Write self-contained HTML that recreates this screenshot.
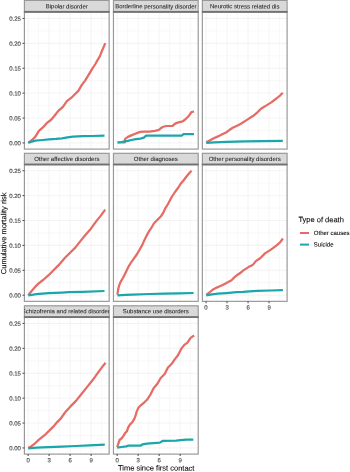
<!DOCTYPE html><html><head><meta charset="utf-8"><style>html,body{margin:0;padding:0;background:#fff;}svg{display:block;filter:blur(0.4px);}text{font-family:"Liberation Sans", sans-serif;text-rendering:geometricPrecision;stroke:currentColor;stroke-width:0.08px;}</style></head><body>
<svg width="350" height="472" viewBox="0 0 350 472">
<rect x="0" y="0" width="350" height="472" fill="#fff"/>
<defs><clipPath id="cp0"><rect x="24.40" y="0.40" width="84.75" height="11.05"/></clipPath><clipPath id="cp1"><rect x="113.45" y="0.40" width="84.75" height="11.05"/></clipPath><clipPath id="cp2"><rect x="202.35" y="0.40" width="84.75" height="11.05"/></clipPath><clipPath id="cp3"><rect x="24.40" y="153.30" width="84.75" height="10.85"/></clipPath><clipPath id="cp4"><rect x="113.45" y="153.30" width="84.75" height="10.85"/></clipPath><clipPath id="cp5"><rect x="202.35" y="153.30" width="84.75" height="10.85"/></clipPath><clipPath id="cp6"><rect x="24.40" y="305.80" width="84.75" height="10.95"/></clipPath><clipPath id="cp7"><rect x="113.45" y="305.80" width="84.75" height="10.95"/></clipPath></defs>
<line x1="38.60" y1="12.15" x2="38.60" y2="149.10" stroke="#F3F3F3" stroke-width="0.6"/>
<line x1="59.60" y1="12.15" x2="59.60" y2="149.10" stroke="#F3F3F3" stroke-width="0.6"/>
<line x1="80.60" y1="12.15" x2="80.60" y2="149.10" stroke="#F3F3F3" stroke-width="0.6"/>
<line x1="101.60" y1="12.15" x2="101.60" y2="149.10" stroke="#F3F3F3" stroke-width="0.6"/>
<line x1="24.40" y1="130.50" x2="109.15" y2="130.50" stroke="#F3F3F3" stroke-width="0.6"/>
<line x1="24.40" y1="105.60" x2="109.15" y2="105.60" stroke="#F3F3F3" stroke-width="0.6"/>
<line x1="24.40" y1="80.70" x2="109.15" y2="80.70" stroke="#F3F3F3" stroke-width="0.6"/>
<line x1="24.40" y1="55.80" x2="109.15" y2="55.80" stroke="#F3F3F3" stroke-width="0.6"/>
<line x1="24.40" y1="30.90" x2="109.15" y2="30.90" stroke="#F3F3F3" stroke-width="0.6"/>
<line x1="28.10" y1="12.15" x2="28.10" y2="149.10" stroke="#F0F0F0" stroke-width="0.8"/>
<line x1="49.10" y1="12.15" x2="49.10" y2="149.10" stroke="#F0F0F0" stroke-width="0.8"/>
<line x1="70.10" y1="12.15" x2="70.10" y2="149.10" stroke="#F0F0F0" stroke-width="0.8"/>
<line x1="91.10" y1="12.15" x2="91.10" y2="149.10" stroke="#F0F0F0" stroke-width="0.8"/>
<line x1="24.40" y1="142.95" x2="109.15" y2="142.95" stroke="#F0F0F0" stroke-width="0.8"/>
<line x1="24.40" y1="118.05" x2="109.15" y2="118.05" stroke="#F0F0F0" stroke-width="0.8"/>
<line x1="24.40" y1="93.15" x2="109.15" y2="93.15" stroke="#F0F0F0" stroke-width="0.8"/>
<line x1="24.40" y1="68.25" x2="109.15" y2="68.25" stroke="#F0F0F0" stroke-width="0.8"/>
<line x1="24.40" y1="43.35" x2="109.15" y2="43.35" stroke="#F0F0F0" stroke-width="0.8"/>
<line x1="24.40" y1="18.45" x2="109.15" y2="18.45" stroke="#F0F0F0" stroke-width="0.8"/>
<polyline points="28.3,142.8 32.0,140.0 35.4,136.6 38.9,130.9 42.9,127.4 46.9,122.9 50.9,120.0 54.3,116.0 58.3,110.9 62.9,106.9 66.9,101.1 71.4,97.7 74.9,94.3 78.3,90.9 81.7,85.1 85.1,80.6 88.6,74.9 92.0,69.1 95.4,64.0 97.1,60.8 99.7,56.6 101.4,52.3 103.6,47.1 105.3,43.3" fill="none" stroke="#E46C64" stroke-width="2.25" stroke-linejoin="round" stroke-linecap="butt"/>
<polyline points="28.3,142.6 35.4,140.6 42.3,140.0 49.1,139.4 56.0,138.9 62.0,138.3 67.5,137.3 73.0,136.7 82.6,136.2 92.2,136.0 104.5,135.7" fill="none" stroke="#1AA6AB" stroke-width="2.25" stroke-linejoin="round" stroke-linecap="butt"/>
<rect x="24.40" y="12.15" width="84.75" height="136.95" fill="none" stroke="#969696" stroke-width="1.15"/>
<rect x="24.40" y="0.40" width="84.75" height="11.05" fill="#D9D9D9" stroke="#969696" stroke-width="1.15"/>
<line x1="23.90" y1="11.80" x2="109.65" y2="11.80" stroke="#727272" stroke-width="1.7"/>
<g clip-path="url(#cp0)"><text x="66.78" y="8.40" font-size="6" fill="#1A1A1A" color="#1A1A1A" text-anchor="middle" style="stroke-width:0.05px" transform="rotate(0.1 66.78 8.40)">Bipolar disorder</text></g>
<line x1="22.50" y1="142.95" x2="24.40" y2="142.95" stroke="#333" stroke-width="0.9"/>
<text x="20.90" y="145.30" font-size="6" fill="#4D4D4D" color="#4D4D4D" text-anchor="end" style="stroke-width:0.15px" transform="rotate(0.1 20.90 145.30)">0.00</text>
<line x1="22.50" y1="118.05" x2="24.40" y2="118.05" stroke="#333" stroke-width="0.9"/>
<text x="20.90" y="120.40" font-size="6" fill="#4D4D4D" color="#4D4D4D" text-anchor="end" style="stroke-width:0.15px" transform="rotate(0.1 20.90 120.40)">0.05</text>
<line x1="22.50" y1="93.15" x2="24.40" y2="93.15" stroke="#333" stroke-width="0.9"/>
<text x="20.90" y="95.50" font-size="6" fill="#4D4D4D" color="#4D4D4D" text-anchor="end" style="stroke-width:0.15px" transform="rotate(0.1 20.90 95.50)">0.10</text>
<line x1="22.50" y1="68.25" x2="24.40" y2="68.25" stroke="#333" stroke-width="0.9"/>
<text x="20.90" y="70.60" font-size="6" fill="#4D4D4D" color="#4D4D4D" text-anchor="end" style="stroke-width:0.15px" transform="rotate(0.1 20.90 70.60)">0.15</text>
<line x1="22.50" y1="43.35" x2="24.40" y2="43.35" stroke="#333" stroke-width="0.9"/>
<text x="20.90" y="45.70" font-size="6" fill="#4D4D4D" color="#4D4D4D" text-anchor="end" style="stroke-width:0.15px" transform="rotate(0.1 20.90 45.70)">0.20</text>
<line x1="22.50" y1="18.45" x2="24.40" y2="18.45" stroke="#333" stroke-width="0.9"/>
<text x="20.90" y="20.80" font-size="6" fill="#4D4D4D" color="#4D4D4D" text-anchor="end" style="stroke-width:0.15px" transform="rotate(0.1 20.90 20.80)">0.25</text>
<line x1="127.65" y1="12.15" x2="127.65" y2="149.10" stroke="#F3F3F3" stroke-width="0.6"/>
<line x1="148.65" y1="12.15" x2="148.65" y2="149.10" stroke="#F3F3F3" stroke-width="0.6"/>
<line x1="169.65" y1="12.15" x2="169.65" y2="149.10" stroke="#F3F3F3" stroke-width="0.6"/>
<line x1="190.65" y1="12.15" x2="190.65" y2="149.10" stroke="#F3F3F3" stroke-width="0.6"/>
<line x1="113.45" y1="130.50" x2="198.20" y2="130.50" stroke="#F3F3F3" stroke-width="0.6"/>
<line x1="113.45" y1="105.60" x2="198.20" y2="105.60" stroke="#F3F3F3" stroke-width="0.6"/>
<line x1="113.45" y1="80.70" x2="198.20" y2="80.70" stroke="#F3F3F3" stroke-width="0.6"/>
<line x1="113.45" y1="55.80" x2="198.20" y2="55.80" stroke="#F3F3F3" stroke-width="0.6"/>
<line x1="113.45" y1="30.90" x2="198.20" y2="30.90" stroke="#F3F3F3" stroke-width="0.6"/>
<line x1="117.15" y1="12.15" x2="117.15" y2="149.10" stroke="#F0F0F0" stroke-width="0.8"/>
<line x1="138.15" y1="12.15" x2="138.15" y2="149.10" stroke="#F0F0F0" stroke-width="0.8"/>
<line x1="159.15" y1="12.15" x2="159.15" y2="149.10" stroke="#F0F0F0" stroke-width="0.8"/>
<line x1="180.15" y1="12.15" x2="180.15" y2="149.10" stroke="#F0F0F0" stroke-width="0.8"/>
<line x1="113.45" y1="142.95" x2="198.20" y2="142.95" stroke="#F0F0F0" stroke-width="0.8"/>
<line x1="113.45" y1="118.05" x2="198.20" y2="118.05" stroke="#F0F0F0" stroke-width="0.8"/>
<line x1="113.45" y1="93.15" x2="198.20" y2="93.15" stroke="#F0F0F0" stroke-width="0.8"/>
<line x1="113.45" y1="68.25" x2="198.20" y2="68.25" stroke="#F0F0F0" stroke-width="0.8"/>
<line x1="113.45" y1="43.35" x2="198.20" y2="43.35" stroke="#F0F0F0" stroke-width="0.8"/>
<line x1="113.45" y1="18.45" x2="198.20" y2="18.45" stroke="#F0F0F0" stroke-width="0.8"/>
<polyline points="117.6,142.5 124.9,142.3 125.0,139.1 127.9,136.9 131.3,135.4 134.7,134.0 138.1,132.6 140.4,131.9 145.0,131.7 149.6,131.7 153.0,131.1 155.0,130.8 158.8,129.9 162.5,127.0 166.3,126.0 172.6,125.8 175.1,123.6 177.6,122.6 182.7,121.4 185.2,119.5 189.0,115.7 191.5,112.0 194.0,111.6" fill="none" stroke="#E46C64" stroke-width="2.25" stroke-linejoin="round" stroke-linecap="butt"/>
<polyline points="117.6,142.3 121.6,142.0 124.4,141.4 127.9,140.9 131.3,140.0 135.9,139.1 140.4,138.6 143.9,137.7 146.1,135.7 153.0,135.5 182.0,135.5 183.3,134.2 194.0,134.2" fill="none" stroke="#1AA6AB" stroke-width="2.25" stroke-linejoin="round" stroke-linecap="butt"/>
<rect x="113.45" y="12.15" width="84.75" height="136.95" fill="none" stroke="#969696" stroke-width="1.15"/>
<rect x="113.45" y="0.40" width="84.75" height="11.05" fill="#D9D9D9" stroke="#969696" stroke-width="1.15"/>
<line x1="112.95" y1="11.80" x2="198.70" y2="11.80" stroke="#727272" stroke-width="1.7"/>
<g clip-path="url(#cp1)"><text x="155.82" y="8.40" font-size="6" fill="#1A1A1A" color="#1A1A1A" text-anchor="middle" style="stroke-width:0.05px" transform="rotate(0.1 155.82 8.40)">Borderline personality disorder</text></g>
<line x1="216.55" y1="12.15" x2="216.55" y2="149.10" stroke="#F3F3F3" stroke-width="0.6"/>
<line x1="237.55" y1="12.15" x2="237.55" y2="149.10" stroke="#F3F3F3" stroke-width="0.6"/>
<line x1="258.55" y1="12.15" x2="258.55" y2="149.10" stroke="#F3F3F3" stroke-width="0.6"/>
<line x1="279.55" y1="12.15" x2="279.55" y2="149.10" stroke="#F3F3F3" stroke-width="0.6"/>
<line x1="202.35" y1="130.50" x2="287.10" y2="130.50" stroke="#F3F3F3" stroke-width="0.6"/>
<line x1="202.35" y1="105.60" x2="287.10" y2="105.60" stroke="#F3F3F3" stroke-width="0.6"/>
<line x1="202.35" y1="80.70" x2="287.10" y2="80.70" stroke="#F3F3F3" stroke-width="0.6"/>
<line x1="202.35" y1="55.80" x2="287.10" y2="55.80" stroke="#F3F3F3" stroke-width="0.6"/>
<line x1="202.35" y1="30.90" x2="287.10" y2="30.90" stroke="#F3F3F3" stroke-width="0.6"/>
<line x1="206.05" y1="12.15" x2="206.05" y2="149.10" stroke="#F0F0F0" stroke-width="0.8"/>
<line x1="227.05" y1="12.15" x2="227.05" y2="149.10" stroke="#F0F0F0" stroke-width="0.8"/>
<line x1="248.05" y1="12.15" x2="248.05" y2="149.10" stroke="#F0F0F0" stroke-width="0.8"/>
<line x1="269.05" y1="12.15" x2="269.05" y2="149.10" stroke="#F0F0F0" stroke-width="0.8"/>
<line x1="202.35" y1="142.95" x2="287.10" y2="142.95" stroke="#F0F0F0" stroke-width="0.8"/>
<line x1="202.35" y1="118.05" x2="287.10" y2="118.05" stroke="#F0F0F0" stroke-width="0.8"/>
<line x1="202.35" y1="93.15" x2="287.10" y2="93.15" stroke="#F0F0F0" stroke-width="0.8"/>
<line x1="202.35" y1="68.25" x2="287.10" y2="68.25" stroke="#F0F0F0" stroke-width="0.8"/>
<line x1="202.35" y1="43.35" x2="287.10" y2="43.35" stroke="#F0F0F0" stroke-width="0.8"/>
<line x1="202.35" y1="18.45" x2="287.10" y2="18.45" stroke="#F0F0F0" stroke-width="0.8"/>
<polyline points="206.3,142.2 210.6,139.9 214.3,138.0 218.0,136.4 221.7,134.6 226.0,132.5 229.0,130.3 232.7,127.8 237.6,125.4 241.3,123.5 245.0,121.1 248.1,119.1 253.3,115.8 257.1,112.6 261.0,108.8 266.1,105.6 271.3,102.4 276.4,98.5 280.3,95.3 282.8,92.7" fill="none" stroke="#E46C64" stroke-width="2.25" stroke-linejoin="round" stroke-linecap="butt"/>
<polyline points="206.3,142.9 214.3,142.3 226.6,141.9 245.0,141.4 262.3,141.2 282.8,140.9" fill="none" stroke="#1AA6AB" stroke-width="2.25" stroke-linejoin="round" stroke-linecap="butt"/>
<rect x="202.35" y="12.15" width="84.75" height="136.95" fill="none" stroke="#969696" stroke-width="1.15"/>
<rect x="202.35" y="0.40" width="84.75" height="11.05" fill="#D9D9D9" stroke="#969696" stroke-width="1.15"/>
<line x1="201.85" y1="11.80" x2="287.60" y2="11.80" stroke="#727272" stroke-width="1.7"/>
<g clip-path="url(#cp2)"><text x="244.72" y="8.40" font-size="6" fill="#1A1A1A" color="#1A1A1A" text-anchor="middle" style="stroke-width:0.05px" transform="rotate(0.1 244.72 8.40)">Neurotic stress related dis</text></g>
<line x1="38.60" y1="164.85" x2="38.60" y2="301.35" stroke="#F3F3F3" stroke-width="0.6"/>
<line x1="59.60" y1="164.85" x2="59.60" y2="301.35" stroke="#F3F3F3" stroke-width="0.6"/>
<line x1="80.60" y1="164.85" x2="80.60" y2="301.35" stroke="#F3F3F3" stroke-width="0.6"/>
<line x1="101.60" y1="164.85" x2="101.60" y2="301.35" stroke="#F3F3F3" stroke-width="0.6"/>
<line x1="24.40" y1="282.75" x2="109.15" y2="282.75" stroke="#F3F3F3" stroke-width="0.6"/>
<line x1="24.40" y1="257.85" x2="109.15" y2="257.85" stroke="#F3F3F3" stroke-width="0.6"/>
<line x1="24.40" y1="232.95" x2="109.15" y2="232.95" stroke="#F3F3F3" stroke-width="0.6"/>
<line x1="24.40" y1="208.05" x2="109.15" y2="208.05" stroke="#F3F3F3" stroke-width="0.6"/>
<line x1="24.40" y1="183.15" x2="109.15" y2="183.15" stroke="#F3F3F3" stroke-width="0.6"/>
<line x1="28.10" y1="164.85" x2="28.10" y2="301.35" stroke="#F0F0F0" stroke-width="0.8"/>
<line x1="49.10" y1="164.85" x2="49.10" y2="301.35" stroke="#F0F0F0" stroke-width="0.8"/>
<line x1="70.10" y1="164.85" x2="70.10" y2="301.35" stroke="#F0F0F0" stroke-width="0.8"/>
<line x1="91.10" y1="164.85" x2="91.10" y2="301.35" stroke="#F0F0F0" stroke-width="0.8"/>
<line x1="24.40" y1="295.20" x2="109.15" y2="295.20" stroke="#F0F0F0" stroke-width="0.8"/>
<line x1="24.40" y1="270.30" x2="109.15" y2="270.30" stroke="#F0F0F0" stroke-width="0.8"/>
<line x1="24.40" y1="245.40" x2="109.15" y2="245.40" stroke="#F0F0F0" stroke-width="0.8"/>
<line x1="24.40" y1="220.50" x2="109.15" y2="220.50" stroke="#F0F0F0" stroke-width="0.8"/>
<line x1="24.40" y1="195.60" x2="109.15" y2="195.60" stroke="#F0F0F0" stroke-width="0.8"/>
<line x1="24.40" y1="170.70" x2="109.15" y2="170.70" stroke="#F0F0F0" stroke-width="0.8"/>
<polyline points="28.3,295.2 31.4,291.2 35.1,286.9 38.7,283.4 43.7,279.5 48.6,275.2 53.5,270.3 58.4,265.4 63.3,259.8 65.0,257.8 70.1,252.7 75.3,247.6 80.4,241.1 85.6,234.7 90.7,228.9 95.8,221.9 101.0,215.4 105.2,209.6" fill="none" stroke="#E46C64" stroke-width="2.25" stroke-linejoin="round" stroke-linecap="butt"/>
<polyline points="28.3,295.5 36.3,294.2 48.6,293.2 62.0,292.6 68.9,292.2 82.6,291.8 104.5,291.0" fill="none" stroke="#1AA6AB" stroke-width="2.25" stroke-linejoin="round" stroke-linecap="butt"/>
<rect x="24.40" y="164.85" width="84.75" height="136.50" fill="none" stroke="#969696" stroke-width="1.15"/>
<rect x="24.40" y="153.30" width="84.75" height="10.85" fill="#D9D9D9" stroke="#969696" stroke-width="1.15"/>
<line x1="23.90" y1="164.50" x2="109.65" y2="164.50" stroke="#727272" stroke-width="1.7"/>
<g clip-path="url(#cp3)"><text x="66.78" y="161.05" font-size="6" fill="#1A1A1A" color="#1A1A1A" text-anchor="middle" style="stroke-width:0.05px" transform="rotate(0.1 66.78 161.05)">Other affective disorders</text></g>
<line x1="22.50" y1="295.20" x2="24.40" y2="295.20" stroke="#333" stroke-width="0.9"/>
<text x="20.90" y="297.55" font-size="6" fill="#4D4D4D" color="#4D4D4D" text-anchor="end" style="stroke-width:0.15px" transform="rotate(0.1 20.90 297.55)">0.00</text>
<line x1="22.50" y1="270.30" x2="24.40" y2="270.30" stroke="#333" stroke-width="0.9"/>
<text x="20.90" y="272.65" font-size="6" fill="#4D4D4D" color="#4D4D4D" text-anchor="end" style="stroke-width:0.15px" transform="rotate(0.1 20.90 272.65)">0.05</text>
<line x1="22.50" y1="245.40" x2="24.40" y2="245.40" stroke="#333" stroke-width="0.9"/>
<text x="20.90" y="247.75" font-size="6" fill="#4D4D4D" color="#4D4D4D" text-anchor="end" style="stroke-width:0.15px" transform="rotate(0.1 20.90 247.75)">0.10</text>
<line x1="22.50" y1="220.50" x2="24.40" y2="220.50" stroke="#333" stroke-width="0.9"/>
<text x="20.90" y="222.85" font-size="6" fill="#4D4D4D" color="#4D4D4D" text-anchor="end" style="stroke-width:0.15px" transform="rotate(0.1 20.90 222.85)">0.15</text>
<line x1="22.50" y1="195.60" x2="24.40" y2="195.60" stroke="#333" stroke-width="0.9"/>
<text x="20.90" y="197.95" font-size="6" fill="#4D4D4D" color="#4D4D4D" text-anchor="end" style="stroke-width:0.15px" transform="rotate(0.1 20.90 197.95)">0.20</text>
<line x1="22.50" y1="170.70" x2="24.40" y2="170.70" stroke="#333" stroke-width="0.9"/>
<text x="20.90" y="173.05" font-size="6" fill="#4D4D4D" color="#4D4D4D" text-anchor="end" style="stroke-width:0.15px" transform="rotate(0.1 20.90 173.05)">0.25</text>
<line x1="127.65" y1="164.85" x2="127.65" y2="301.35" stroke="#F3F3F3" stroke-width="0.6"/>
<line x1="148.65" y1="164.85" x2="148.65" y2="301.35" stroke="#F3F3F3" stroke-width="0.6"/>
<line x1="169.65" y1="164.85" x2="169.65" y2="301.35" stroke="#F3F3F3" stroke-width="0.6"/>
<line x1="190.65" y1="164.85" x2="190.65" y2="301.35" stroke="#F3F3F3" stroke-width="0.6"/>
<line x1="113.45" y1="282.75" x2="198.20" y2="282.75" stroke="#F3F3F3" stroke-width="0.6"/>
<line x1="113.45" y1="257.85" x2="198.20" y2="257.85" stroke="#F3F3F3" stroke-width="0.6"/>
<line x1="113.45" y1="232.95" x2="198.20" y2="232.95" stroke="#F3F3F3" stroke-width="0.6"/>
<line x1="113.45" y1="208.05" x2="198.20" y2="208.05" stroke="#F3F3F3" stroke-width="0.6"/>
<line x1="113.45" y1="183.15" x2="198.20" y2="183.15" stroke="#F3F3F3" stroke-width="0.6"/>
<line x1="117.15" y1="164.85" x2="117.15" y2="301.35" stroke="#F0F0F0" stroke-width="0.8"/>
<line x1="138.15" y1="164.85" x2="138.15" y2="301.35" stroke="#F0F0F0" stroke-width="0.8"/>
<line x1="159.15" y1="164.85" x2="159.15" y2="301.35" stroke="#F0F0F0" stroke-width="0.8"/>
<line x1="180.15" y1="164.85" x2="180.15" y2="301.35" stroke="#F0F0F0" stroke-width="0.8"/>
<line x1="113.45" y1="295.20" x2="198.20" y2="295.20" stroke="#F0F0F0" stroke-width="0.8"/>
<line x1="113.45" y1="270.30" x2="198.20" y2="270.30" stroke="#F0F0F0" stroke-width="0.8"/>
<line x1="113.45" y1="245.40" x2="198.20" y2="245.40" stroke="#F0F0F0" stroke-width="0.8"/>
<line x1="113.45" y1="220.50" x2="198.20" y2="220.50" stroke="#F0F0F0" stroke-width="0.8"/>
<line x1="113.45" y1="195.60" x2="198.20" y2="195.60" stroke="#F0F0F0" stroke-width="0.8"/>
<line x1="113.45" y1="170.70" x2="198.20" y2="170.70" stroke="#F0F0F0" stroke-width="0.8"/>
<polyline points="117.4,294.6 118.1,289.6 119.1,285.7 120.6,281.9 123.2,277.5 125.7,272.4 128.2,267.3 130.8,262.9 134.0,258.4 137.1,254.0 139.7,249.5 142.2,245.1 144.7,239.5 147.0,234.9 149.3,230.8 151.7,227.3 154.0,223.2 157.5,219.7 161.0,216.2 163.3,212.7 165.1,208.6 168.0,204.0 172.0,196.5 175.0,192.0 178.0,188.0 180.5,184.0 183.5,180.5 186.5,176.5 189.0,173.5 191.5,170.8" fill="none" stroke="#E46C64" stroke-width="2.25" stroke-linejoin="round" stroke-linecap="butt"/>
<polyline points="117.4,295.3 125.7,294.9 132.1,294.6 150.0,294.0 164.3,293.7 178.6,293.4 193.6,293.0" fill="none" stroke="#1AA6AB" stroke-width="2.25" stroke-linejoin="round" stroke-linecap="butt"/>
<rect x="113.45" y="164.85" width="84.75" height="136.50" fill="none" stroke="#969696" stroke-width="1.15"/>
<rect x="113.45" y="153.30" width="84.75" height="10.85" fill="#D9D9D9" stroke="#969696" stroke-width="1.15"/>
<line x1="112.95" y1="164.50" x2="198.70" y2="164.50" stroke="#727272" stroke-width="1.7"/>
<g clip-path="url(#cp4)"><text x="155.82" y="161.05" font-size="6" fill="#1A1A1A" color="#1A1A1A" text-anchor="middle" style="stroke-width:0.05px" transform="rotate(0.1 155.82 161.05)">Other diagnoses</text></g>
<line x1="216.55" y1="164.85" x2="216.55" y2="301.35" stroke="#F3F3F3" stroke-width="0.6"/>
<line x1="237.55" y1="164.85" x2="237.55" y2="301.35" stroke="#F3F3F3" stroke-width="0.6"/>
<line x1="258.55" y1="164.85" x2="258.55" y2="301.35" stroke="#F3F3F3" stroke-width="0.6"/>
<line x1="279.55" y1="164.85" x2="279.55" y2="301.35" stroke="#F3F3F3" stroke-width="0.6"/>
<line x1="202.35" y1="282.75" x2="287.10" y2="282.75" stroke="#F3F3F3" stroke-width="0.6"/>
<line x1="202.35" y1="257.85" x2="287.10" y2="257.85" stroke="#F3F3F3" stroke-width="0.6"/>
<line x1="202.35" y1="232.95" x2="287.10" y2="232.95" stroke="#F3F3F3" stroke-width="0.6"/>
<line x1="202.35" y1="208.05" x2="287.10" y2="208.05" stroke="#F3F3F3" stroke-width="0.6"/>
<line x1="202.35" y1="183.15" x2="287.10" y2="183.15" stroke="#F3F3F3" stroke-width="0.6"/>
<line x1="206.05" y1="164.85" x2="206.05" y2="301.35" stroke="#F0F0F0" stroke-width="0.8"/>
<line x1="227.05" y1="164.85" x2="227.05" y2="301.35" stroke="#F0F0F0" stroke-width="0.8"/>
<line x1="248.05" y1="164.85" x2="248.05" y2="301.35" stroke="#F0F0F0" stroke-width="0.8"/>
<line x1="269.05" y1="164.85" x2="269.05" y2="301.35" stroke="#F0F0F0" stroke-width="0.8"/>
<line x1="202.35" y1="295.20" x2="287.10" y2="295.20" stroke="#F0F0F0" stroke-width="0.8"/>
<line x1="202.35" y1="270.30" x2="287.10" y2="270.30" stroke="#F0F0F0" stroke-width="0.8"/>
<line x1="202.35" y1="245.40" x2="287.10" y2="245.40" stroke="#F0F0F0" stroke-width="0.8"/>
<line x1="202.35" y1="220.50" x2="287.10" y2="220.50" stroke="#F0F0F0" stroke-width="0.8"/>
<line x1="202.35" y1="195.60" x2="287.10" y2="195.60" stroke="#F0F0F0" stroke-width="0.8"/>
<line x1="202.35" y1="170.70" x2="287.10" y2="170.70" stroke="#F0F0F0" stroke-width="0.8"/>
<polyline points="206.3,294.9 209.4,292.5 213.1,289.4 216.7,287.6 220.4,286.0 224.1,284.2 227.8,282.3 231.5,280.2 234.6,277.1 237.6,274.7 241.3,272.2 243.0,270.6 248.5,267.1 252.6,265.1 256.1,260.9 260.2,258.2 265.0,253.4 270.5,249.9 276.0,245.8 280.1,242.4 282.9,238.5" fill="none" stroke="#E46C64" stroke-width="2.25" stroke-linejoin="round" stroke-linecap="butt"/>
<polyline points="206.3,295.3 211.8,294.3 218.0,293.7 226.6,293.1 236.4,292.2 243.0,291.9 256.8,290.8 270.5,290.5 282.9,290.2" fill="none" stroke="#1AA6AB" stroke-width="2.25" stroke-linejoin="round" stroke-linecap="butt"/>
<rect x="202.35" y="164.85" width="84.75" height="136.50" fill="none" stroke="#969696" stroke-width="1.15"/>
<rect x="202.35" y="153.30" width="84.75" height="10.85" fill="#D9D9D9" stroke="#969696" stroke-width="1.15"/>
<line x1="201.85" y1="164.50" x2="287.60" y2="164.50" stroke="#727272" stroke-width="1.7"/>
<g clip-path="url(#cp5)"><text x="244.72" y="161.05" font-size="6" fill="#1A1A1A" color="#1A1A1A" text-anchor="middle" style="stroke-width:0.05px" transform="rotate(0.1 244.72 161.05)">Other personality disorders</text></g>
<line x1="206.05" y1="301.35" x2="206.05" y2="303.25" stroke="#333" stroke-width="0.9"/>
<text x="206.05" y="309.55" font-size="6" fill="#4D4D4D" color="#4D4D4D" text-anchor="middle" style="stroke-width:0.15px" transform="rotate(0.1 206.05 309.55)">0</text>
<line x1="227.05" y1="301.35" x2="227.05" y2="303.25" stroke="#333" stroke-width="0.9"/>
<text x="227.05" y="309.55" font-size="6" fill="#4D4D4D" color="#4D4D4D" text-anchor="middle" style="stroke-width:0.15px" transform="rotate(0.1 227.05 309.55)">3</text>
<line x1="248.05" y1="301.35" x2="248.05" y2="303.25" stroke="#333" stroke-width="0.9"/>
<text x="248.05" y="309.55" font-size="6" fill="#4D4D4D" color="#4D4D4D" text-anchor="middle" style="stroke-width:0.15px" transform="rotate(0.1 248.05 309.55)">6</text>
<line x1="269.05" y1="301.35" x2="269.05" y2="303.25" stroke="#333" stroke-width="0.9"/>
<text x="269.05" y="309.55" font-size="6" fill="#4D4D4D" color="#4D4D4D" text-anchor="middle" style="stroke-width:0.15px" transform="rotate(0.1 269.05 309.55)">9</text>
<line x1="38.60" y1="317.45" x2="38.60" y2="454.10" stroke="#F3F3F3" stroke-width="0.6"/>
<line x1="59.60" y1="317.45" x2="59.60" y2="454.10" stroke="#F3F3F3" stroke-width="0.6"/>
<line x1="80.60" y1="317.45" x2="80.60" y2="454.10" stroke="#F3F3F3" stroke-width="0.6"/>
<line x1="101.60" y1="317.45" x2="101.60" y2="454.10" stroke="#F3F3F3" stroke-width="0.6"/>
<line x1="24.40" y1="435.50" x2="109.15" y2="435.50" stroke="#F3F3F3" stroke-width="0.6"/>
<line x1="24.40" y1="410.60" x2="109.15" y2="410.60" stroke="#F3F3F3" stroke-width="0.6"/>
<line x1="24.40" y1="385.70" x2="109.15" y2="385.70" stroke="#F3F3F3" stroke-width="0.6"/>
<line x1="24.40" y1="360.80" x2="109.15" y2="360.80" stroke="#F3F3F3" stroke-width="0.6"/>
<line x1="24.40" y1="335.90" x2="109.15" y2="335.90" stroke="#F3F3F3" stroke-width="0.6"/>
<line x1="28.10" y1="317.45" x2="28.10" y2="454.10" stroke="#F0F0F0" stroke-width="0.8"/>
<line x1="49.10" y1="317.45" x2="49.10" y2="454.10" stroke="#F0F0F0" stroke-width="0.8"/>
<line x1="70.10" y1="317.45" x2="70.10" y2="454.10" stroke="#F0F0F0" stroke-width="0.8"/>
<line x1="91.10" y1="317.45" x2="91.10" y2="454.10" stroke="#F0F0F0" stroke-width="0.8"/>
<line x1="24.40" y1="447.95" x2="109.15" y2="447.95" stroke="#F0F0F0" stroke-width="0.8"/>
<line x1="24.40" y1="423.05" x2="109.15" y2="423.05" stroke="#F0F0F0" stroke-width="0.8"/>
<line x1="24.40" y1="398.15" x2="109.15" y2="398.15" stroke="#F0F0F0" stroke-width="0.8"/>
<line x1="24.40" y1="373.25" x2="109.15" y2="373.25" stroke="#F0F0F0" stroke-width="0.8"/>
<line x1="24.40" y1="348.35" x2="109.15" y2="348.35" stroke="#F0F0F0" stroke-width="0.8"/>
<line x1="24.40" y1="323.45" x2="109.15" y2="323.45" stroke="#F0F0F0" stroke-width="0.8"/>
<polyline points="28.3,447.9 31.4,446.1 35.1,443.3 38.7,439.9 42.4,436.9 46.1,433.8 49.8,430.1 53.5,426.4 57.2,422.1 60.9,418.4 65.0,412.5 70.5,406.4 76.0,400.9 81.5,394.0 87.0,387.1 92.5,380.3 98.0,372.7 102.1,367.2 105.6,362.7" fill="none" stroke="#E46C64" stroke-width="2.25" stroke-linejoin="round" stroke-linecap="butt"/>
<polyline points="28.3,448.3 36.3,447.7 48.6,447.1 62.0,446.6 75.7,446.0 89.4,445.4 104.8,444.6" fill="none" stroke="#1AA6AB" stroke-width="2.25" stroke-linejoin="round" stroke-linecap="butt"/>
<rect x="24.40" y="317.45" width="84.75" height="136.65" fill="none" stroke="#969696" stroke-width="1.15"/>
<rect x="24.40" y="305.80" width="84.75" height="10.95" fill="#D9D9D9" stroke="#969696" stroke-width="1.15"/>
<line x1="23.90" y1="317.10" x2="109.65" y2="317.10" stroke="#727272" stroke-width="1.7"/>
<g clip-path="url(#cp6)"><text x="65.88" y="313.30" font-size="6" fill="#1A1A1A" color="#1A1A1A" text-anchor="middle" style="stroke-width:0.05px" transform="rotate(0.1 65.88 313.30)">Schizofrenia and related disorder</text></g>
<line x1="22.50" y1="447.95" x2="24.40" y2="447.95" stroke="#333" stroke-width="0.9"/>
<text x="20.90" y="450.30" font-size="6" fill="#4D4D4D" color="#4D4D4D" text-anchor="end" style="stroke-width:0.15px" transform="rotate(0.1 20.90 450.30)">0.00</text>
<line x1="22.50" y1="423.05" x2="24.40" y2="423.05" stroke="#333" stroke-width="0.9"/>
<text x="20.90" y="425.40" font-size="6" fill="#4D4D4D" color="#4D4D4D" text-anchor="end" style="stroke-width:0.15px" transform="rotate(0.1 20.90 425.40)">0.05</text>
<line x1="22.50" y1="398.15" x2="24.40" y2="398.15" stroke="#333" stroke-width="0.9"/>
<text x="20.90" y="400.50" font-size="6" fill="#4D4D4D" color="#4D4D4D" text-anchor="end" style="stroke-width:0.15px" transform="rotate(0.1 20.90 400.50)">0.10</text>
<line x1="22.50" y1="373.25" x2="24.40" y2="373.25" stroke="#333" stroke-width="0.9"/>
<text x="20.90" y="375.60" font-size="6" fill="#4D4D4D" color="#4D4D4D" text-anchor="end" style="stroke-width:0.15px" transform="rotate(0.1 20.90 375.60)">0.15</text>
<line x1="22.50" y1="348.35" x2="24.40" y2="348.35" stroke="#333" stroke-width="0.9"/>
<text x="20.90" y="350.70" font-size="6" fill="#4D4D4D" color="#4D4D4D" text-anchor="end" style="stroke-width:0.15px" transform="rotate(0.1 20.90 350.70)">0.20</text>
<line x1="22.50" y1="323.45" x2="24.40" y2="323.45" stroke="#333" stroke-width="0.9"/>
<text x="20.90" y="325.80" font-size="6" fill="#4D4D4D" color="#4D4D4D" text-anchor="end" style="stroke-width:0.15px" transform="rotate(0.1 20.90 325.80)">0.25</text>
<line x1="28.10" y1="454.10" x2="28.10" y2="456.00" stroke="#333" stroke-width="0.9"/>
<text x="28.10" y="462.30" font-size="6" fill="#4D4D4D" color="#4D4D4D" text-anchor="middle" style="stroke-width:0.15px" transform="rotate(0.1 28.10 462.30)">0</text>
<line x1="49.10" y1="454.10" x2="49.10" y2="456.00" stroke="#333" stroke-width="0.9"/>
<text x="49.10" y="462.30" font-size="6" fill="#4D4D4D" color="#4D4D4D" text-anchor="middle" style="stroke-width:0.15px" transform="rotate(0.1 49.10 462.30)">3</text>
<line x1="70.10" y1="454.10" x2="70.10" y2="456.00" stroke="#333" stroke-width="0.9"/>
<text x="70.10" y="462.30" font-size="6" fill="#4D4D4D" color="#4D4D4D" text-anchor="middle" style="stroke-width:0.15px" transform="rotate(0.1 70.10 462.30)">6</text>
<line x1="91.10" y1="454.10" x2="91.10" y2="456.00" stroke="#333" stroke-width="0.9"/>
<text x="91.10" y="462.30" font-size="6" fill="#4D4D4D" color="#4D4D4D" text-anchor="middle" style="stroke-width:0.15px" transform="rotate(0.1 91.10 462.30)">9</text>
<line x1="127.65" y1="317.45" x2="127.65" y2="454.10" stroke="#F3F3F3" stroke-width="0.6"/>
<line x1="148.65" y1="317.45" x2="148.65" y2="454.10" stroke="#F3F3F3" stroke-width="0.6"/>
<line x1="169.65" y1="317.45" x2="169.65" y2="454.10" stroke="#F3F3F3" stroke-width="0.6"/>
<line x1="190.65" y1="317.45" x2="190.65" y2="454.10" stroke="#F3F3F3" stroke-width="0.6"/>
<line x1="113.45" y1="435.50" x2="198.20" y2="435.50" stroke="#F3F3F3" stroke-width="0.6"/>
<line x1="113.45" y1="410.60" x2="198.20" y2="410.60" stroke="#F3F3F3" stroke-width="0.6"/>
<line x1="113.45" y1="385.70" x2="198.20" y2="385.70" stroke="#F3F3F3" stroke-width="0.6"/>
<line x1="113.45" y1="360.80" x2="198.20" y2="360.80" stroke="#F3F3F3" stroke-width="0.6"/>
<line x1="113.45" y1="335.90" x2="198.20" y2="335.90" stroke="#F3F3F3" stroke-width="0.6"/>
<line x1="117.15" y1="317.45" x2="117.15" y2="454.10" stroke="#F0F0F0" stroke-width="0.8"/>
<line x1="138.15" y1="317.45" x2="138.15" y2="454.10" stroke="#F0F0F0" stroke-width="0.8"/>
<line x1="159.15" y1="317.45" x2="159.15" y2="454.10" stroke="#F0F0F0" stroke-width="0.8"/>
<line x1="180.15" y1="317.45" x2="180.15" y2="454.10" stroke="#F0F0F0" stroke-width="0.8"/>
<line x1="113.45" y1="447.95" x2="198.20" y2="447.95" stroke="#F0F0F0" stroke-width="0.8"/>
<line x1="113.45" y1="423.05" x2="198.20" y2="423.05" stroke="#F0F0F0" stroke-width="0.8"/>
<line x1="113.45" y1="398.15" x2="198.20" y2="398.15" stroke="#F0F0F0" stroke-width="0.8"/>
<line x1="113.45" y1="373.25" x2="198.20" y2="373.25" stroke="#F0F0F0" stroke-width="0.8"/>
<line x1="113.45" y1="348.35" x2="198.20" y2="348.35" stroke="#F0F0F0" stroke-width="0.8"/>
<line x1="113.45" y1="323.45" x2="198.20" y2="323.45" stroke="#F0F0F0" stroke-width="0.8"/>
<polyline points="117.2,447.0 118.4,443.4 119.7,439.7 121.5,438.5 123.3,436.1 125.1,433.1 126.9,431.3 128.1,427.6 129.9,424.6 132.3,422.2 134.2,419.2 135.4,416.2 136.6,411.9 138.4,407.7 140.8,405.3 144.4,402.3 147.5,399.2 150.5,394.5 153.6,388.2 157.6,383.5 160.7,378.0 164.7,374.0 167.8,367.7 171.7,363.8 174.9,359.1 178.0,355.2 181.2,348.9 184.3,344.9 187.5,342.6 190.6,337.9 194.1,335.5" fill="none" stroke="#E46C64" stroke-width="2.25" stroke-linejoin="round" stroke-linecap="butt"/>
<polyline points="117.2,447.6 121.5,447.0 126.3,446.4 128.7,445.5 140.8,445.5 142.6,444.3 146.9,443.6 150.0,443.3 159.9,442.6 162.9,440.8 176.2,440.7 180.7,440.1 186.6,439.7 193.3,439.7" fill="none" stroke="#1AA6AB" stroke-width="2.25" stroke-linejoin="round" stroke-linecap="butt"/>
<rect x="113.45" y="317.45" width="84.75" height="136.65" fill="none" stroke="#969696" stroke-width="1.15"/>
<rect x="113.45" y="305.80" width="84.75" height="10.95" fill="#D9D9D9" stroke="#969696" stroke-width="1.15"/>
<line x1="112.95" y1="317.10" x2="198.70" y2="317.10" stroke="#727272" stroke-width="1.7"/>
<g clip-path="url(#cp7)"><text x="155.82" y="313.30" font-size="6" fill="#1A1A1A" color="#1A1A1A" text-anchor="middle" style="stroke-width:0.05px" transform="rotate(0.1 155.82 313.30)">Substance use disorders</text></g>
<line x1="117.15" y1="454.10" x2="117.15" y2="456.00" stroke="#333" stroke-width="0.9"/>
<text x="117.15" y="462.30" font-size="6" fill="#4D4D4D" color="#4D4D4D" text-anchor="middle" style="stroke-width:0.15px" transform="rotate(0.1 117.15 462.30)">0</text>
<line x1="138.15" y1="454.10" x2="138.15" y2="456.00" stroke="#333" stroke-width="0.9"/>
<text x="138.15" y="462.30" font-size="6" fill="#4D4D4D" color="#4D4D4D" text-anchor="middle" style="stroke-width:0.15px" transform="rotate(0.1 138.15 462.30)">3</text>
<line x1="159.15" y1="454.10" x2="159.15" y2="456.00" stroke="#333" stroke-width="0.9"/>
<text x="159.15" y="462.30" font-size="6" fill="#4D4D4D" color="#4D4D4D" text-anchor="middle" style="stroke-width:0.15px" transform="rotate(0.1 159.15 462.30)">6</text>
<line x1="180.15" y1="454.10" x2="180.15" y2="456.00" stroke="#333" stroke-width="0.9"/>
<text x="180.15" y="462.30" font-size="6" fill="#4D4D4D" color="#4D4D4D" text-anchor="middle" style="stroke-width:0.15px" transform="rotate(0.1 180.15 462.30)">9</text>
<text x="156.20" y="470.60" font-size="7.5" fill="#000" color="#000" text-anchor="middle" transform="rotate(0.1 156.20 470.60)">Time since first contact</text>
<text transform="translate(6.3,233.3) rotate(-89.9)" font-size="7.5" fill="#000" color="#000" text-anchor="middle">Cumulative mortality risk</text>
<text x="298.40" y="222.10" font-size="7.5" fill="#000" color="#000" transform="rotate(0.1 298.40 222.10)">Type of death</text>
<line x1="300.0" y1="233.0" x2="309.0" y2="233.0" stroke="#E46C64" stroke-width="2.0"/>
<line x1="300.0" y1="244.6" x2="309.0" y2="244.6" stroke="#1AA6AB" stroke-width="2.0"/>
<text x="313.80" y="234.90" font-size="6" fill="#000" color="#000" transform="rotate(0.1 313.80 234.90)">Other causes</text>
<text x="313.80" y="246.50" font-size="6" fill="#000" color="#000" transform="rotate(0.1 313.80 246.50)">Suicide</text>
</svg></body></html>
